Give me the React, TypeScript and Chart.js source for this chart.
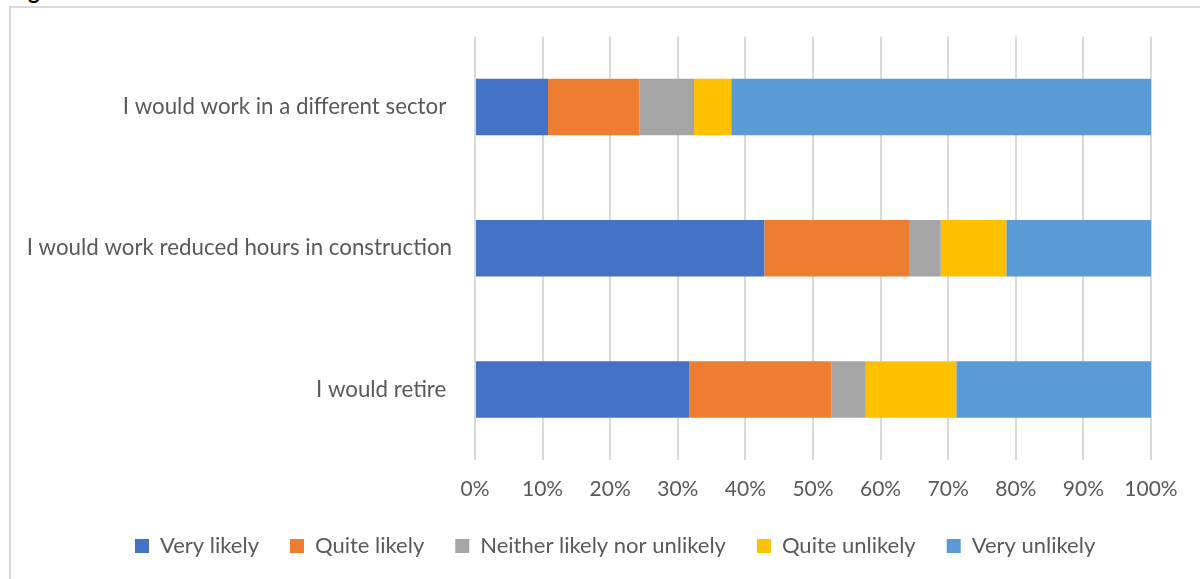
import React, { useEffect, useRef } from 'react';
import { Chart, registerables } from 'chart.js';
Chart.register(...registerables);

const categories = [
  'I would work in a different sector ',
  'I would work reduced hours in construction',
  'I would retire ',
];
const seriesNames = ['Very likely', 'Quite likely', 'Neither likely nor unlikely', 'Quite unlikely', 'Very unlikely'];
const veryLikely = [10.8, 42.8, 31.7];
const quiteLikely = [13.5, 21.4, 21.0];
const neitherLikely = [8.1, 4.7, 5.1];
const quiteUnlikely = [5.5, 9.7, 13.4];
const veryUnlikely = [62.1, 21.4, 28.8];
const seriesColors = ['#4472C4', '#ED7D31', '#A5A5A5', '#FFC000', '#5B9BD5'];

const FONT = 'Lato, "Open Sans", sans-serif';

const legendPlace = {
  id: 'legendPlace',
  afterLayout(chart: any) {
    const lg = chart.legend;
    if (!lg) return;
    const w = lg.right - lg.left;
    const h = lg.bottom - lg.top;
    lg.left = 104;
    lg.right = 104 + w;
    lg.top = 504;
    lg.bottom = 504 + h;
  },
};

export default function App() {
  const ref = useRef<HTMLCanvasElement | null>(null);
  useEffect(() => {
    if (!ref.current) return;
    const values = [veryLikely, quiteLikely, neitherLikely, quiteUnlikely, veryUnlikely];
    const chart = new Chart(ref.current, {
      type: 'bar',
      plugins: [legendPlace],
      data: {
        labels: categories,
        datasets: seriesNames.map((n, i) => ({
          label: n,
          data: values[i],
          backgroundColor: seriesColors[i],
          borderWidth: 0,
          barPercentage: 0.4,
          categoryPercentage: 1,
        })),
      },
      options: {
        indexAxis: 'y',
        animation: false,
        responsive: false,
        layout: { padding: { left: 10, right: 49, top: 36, bottom: 20 } },
        plugins: {
          tooltip: { enabled: false },
          legend: {
            position: 'bottom',
            align: 'start',
            maxHeight: 60,
            labels: {
              boxWidth: 14,
              boxHeight: 14,
              padding: 31,
              color: '#595959',
              font: { family: FONT, size: 22 },
            },
          },
        },
        scales: {
          x: {
            stacked: true,
            min: 0,
            max: 100,
            afterFit: (s: any) => { s.height = 39; },
            ticks: {
              stepSize: 10,
              padding: 17,
              color: '#595959',
              font: { family: FONT, size: 21 },
              callback: (v: any) => v + '%',
            },
            grid: { color: '#d9d9d9', lineWidth: 2, drawTicks: false },
            border: { display: false },
          },
          y: {
            stacked: true,
            afterFit: (s: any) => { s.width = 475 - 10; },
            ticks: {
              padding: 23,
              color: '#595959',
              font: { family: FONT, size: 22.3 },
            },
            grid: { display: false, drawTicks: false },
            border: { display: false },
          },
        },
      },
    });
    return () => chart.destroy();
  }, []);
  return (
    <div style={{ position: 'fixed', left: 0, top: 0, width: 1200, height: 579, overflow: 'hidden', background: '#fff' }}>
      <div style={{ position: 'absolute', left: 10, top: -23, font: `bold 22px ${FONT}`, color: '#000' }}>Figure 6</div>
      <div style={{ position: 'absolute', left: 9, top: 6, width: 1300, height: 700, borderLeft: '2px solid #d9d9d9', borderTop: '2px solid #d9d9d9' }} />
      <canvas ref={ref} width={1200} height={579} style={{ position: 'absolute', left: 0, top: 0 }} />
    </div>
  );
}
